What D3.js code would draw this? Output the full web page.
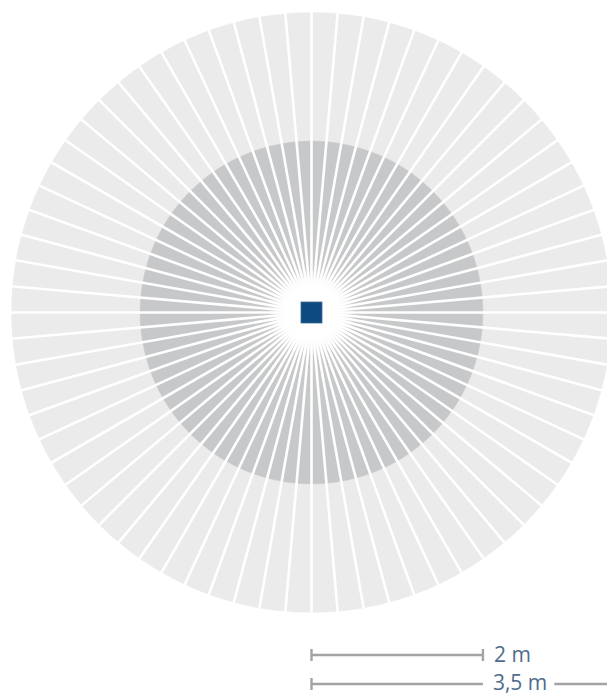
<!DOCTYPE html>
<html>
<head>
<meta charset="utf-8">
<script src="https://cdn.jsdelivr.net/npm/d3@7.9.0/dist/d3.min.js"></script>
<style>
  html, body { margin: 0; padding: 0; background: #fff; }
  svg { display: block; }
  .scale-label { font-family: 'Open Sans', sans-serif; font-size: 21px; fill: #4f6d8c; }
</style>
</head>
<body>
<svg width="607" height="696"></svg>
<script>
// ring radii in metres (outer to inner), and how many wedges go round
const ringMetres = [3.5, 2];
const ringColors = ['#ebebeb', '#c7c8ca'];
const segmentCount = 72;
// scale bars at the bottom
const barMetres = [2, 3.5];
const barLabels = ['2 m', '3,5 m'];

const svg = d3.select('svg');
const cx = 311.5, cy = 312.5;

// metres -> pixels
const r = d3.scaleLinear().domain([0, 3.5]).range([0, 300]);

const angles = d3.range(segmentCount).map((i) => i * 2 * Math.PI / segmentCount);

const g = svg.append('g').attr('transform', `translate(${cx},${cy})`);

ringMetres.forEach((m, k) => {
  let arc = d3.arc().innerRadius(0).outerRadius(r(m));
  g.append('g')
    .selectAll('path')
    .data(angles)
    .join('path')
    .attr('d', (a) => arc({ startAngle: a, endAngle: a + 2 * Math.PI / segmentCount }))
    .attr('fill', ringColors[k])
    .attr('stroke', ringColors[k])
    .attr('stroke-width', 0.4);
});

// white spokes of constant width between the wedges
let spoke = d3.lineRadial();
g.append('g')
  .attr('stroke', '#fff')
  .attr('stroke-width', 2.6)
  .selectAll('path')
  .data(angles)
  .join('path')
  .attr('d', (a) => spoke([[a, 0], [a, r(3.5) + 2]]));

// white hub where the spokes meet
const grad = svg.append('defs').append('radialGradient').attr('id', 'hub');
grad.append('stop').attr('offset', '55%').attr('stop-color', '#fff').attr('stop-opacity', 1);
grad.append('stop').attr('offset', '100%').attr('stop-color', '#fff').attr('stop-opacity', 0);
g.append('circle').attr('r', 44).attr('fill', 'url(#hub)');

// the luminaire itself
g.append('rect')
  .attr('x', -10.5).attr('y', -10.5)
  .attr('width', 21).attr('height', 21)
  .attr('fill', '#0d4a80')
  .attr('stroke', '#3f6b95')
  .attr('stroke-width', 0.8);

// scale bars
const barY = [655, 684];
const bars = svg.append('g').attr('stroke', '#a3a3a3').attr('stroke-width', 2.4);

barMetres.forEach((m, i) => {
  let x0 = cx, x1 = cx + r(m), y = barY[i];
  bars.append('line').attr('x1', x0).attr('x2', x0).attr('y1', y - 6).attr('y2', y + 6);
  if (i === 0) {
    bars.append('line').attr('x1', x0).attr('x2', x1).attr('y1', y).attr('y2', y);
    bars.append('line').attr('x1', x1).attr('x2', x1).attr('y1', y - 6).attr('y2', y + 6);
    svg.append('text').attr('class', 'scale-label')
      .attr('x', x1 + 11).attr('y', y + 7).text(barLabels[i]);
  } else {
    // label sits inside the bar
    let tx = x0 + r(2) + 10;
    let t = svg.append('text').attr('class', 'scale-label')
      .attr('x', tx).attr('y', y + 6).text(barLabels[i]);
    let w = t.node().getComputedTextLength();
    bars.append('line').attr('x1', x0).attr('x2', tx - 10).attr('y1', y).attr('y2', y);
    bars.append('line').attr('x1', tx + w + 7).attr('x2', x1).attr('y1', y).attr('y2', y);
  }
});
</script>
</body>
</html>
